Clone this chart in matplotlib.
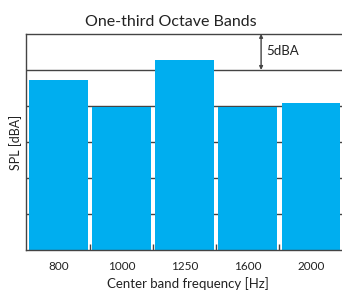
import matplotlib
matplotlib.use("Agg")
import matplotlib.pyplot as plt

bands = ["800", "1000", "1250", "1600", "2000"]
spl = [23.6, 19.9, 26.4, 19.9, 20.4]
grid_levels = [5, 10, 15, 20, 25]
bar_color = "#00AEEF"
line_color = "#444444"

plt.rcParams["font.family"] = ["Lato", "DejaVu Sans"]

fig = plt.figure(figsize=(3.42, 2.90), dpi=100)
ax = fig.add_axes([0.076, 0.138, 0.924, 0.745])

x = list(range(len(bands)))
ax.bar(x, spl, width=0.93, color=bar_color, zorder=2)

# horizontal reference lines behind the bars
for lv in grid_levels:
    ax.axhline(lv, color=line_color, lw=1.0, zorder=1)

ax.set_xlim(-0.51, 4.49)
ax.set_ylim(0, 30)

ax.spines["right"].set_visible(False)
for s in ["left", "top", "bottom"]:
    ax.spines[s].set_color(line_color)
    ax.spines[s].set_linewidth(1.0)

ax.set_yticks([])
ax.set_xticks(x)
ax.set_xticklabels(bands, fontsize=8.5, color="#222222")
ax.tick_params(axis="x", length=0, pad=8)
# small inward ticks between bars
ax.set_xticks([i + 0.5 for i in x[:-1]], minor=True)
ax.tick_params(axis="x", which="minor", direction="in", length=4, width=1, color=line_color)

ax.set_xlabel("Center band frequency [Hz]", fontsize=9.5, color="#222222")
ax.xaxis.set_label_coords(0.513, -0.125)
ax.set_ylabel("SPL [dBA]", fontsize=9, color="#222222", labelpad=3)
fig.suptitle("One-third Octave Bands", x=0.5, y=0.95, fontsize=11.5, color="#222222")

# 5 dBA scale marker
ax.annotate("", xy=(3.21, 30), xytext=(3.21, 25),
            arrowprops=dict(arrowstyle="<|-|>", color=line_color, lw=1.0,
                            mutation_scale=5, shrinkA=0, shrinkB=0))
ax.text(3.29, 27.6, "5dBA", fontsize=9.5, color="#222222", va="center", ha="left")

fig.savefig("out.png", dpi=100)
